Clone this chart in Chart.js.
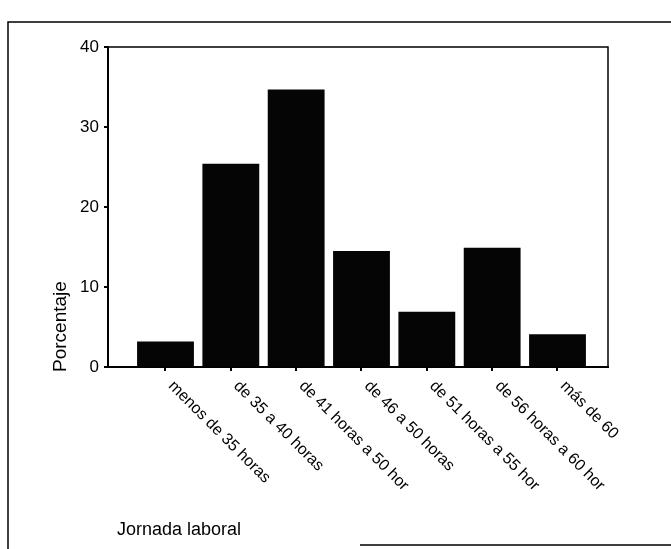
<!DOCTYPE html>
<html><head><meta charset="utf-8">
<script src="https://cdn.jsdelivr.net/npm/chart.js@4"></script>
<style>html,body{margin:0;padding:0;background:#fff;overflow:hidden;} #wrap{width:671px;height:549px;position:relative;}</style>
</head><body><div id="wrap"><canvas id="c" width="671" height="549"></canvas></div>
<script>
const categories = ['menos de 35 horas','de 35 a 40 horas','de 41 horas a 50 hor','de 46 a 50 horas','de 51 horas a 55 hor','de 56 horas a 60 hor','más de 60'];
const porcentaje = [3.2, 25.4, 34.7, 14.5, 6.9, 14.9, 4.1];
const yTicks = [0, 10, 20, 30, 40];
const xTitle = 'Jornada laboral';
const yTitle = 'Porcentaje';

const FONT = '"Liberation Sans", Arial, sans-serif';

const decor = {
  id: 'decor',
  beforeDraw(chart) {
    const ctx = chart.ctx;
    ctx.save(); ctx.fillStyle = '#fff'; ctx.fillRect(0, 0, chart.width, chart.height); ctx.restore();
  },
  afterDraw(chart) {
    const {ctx, chartArea: a} = chart;
    ctx.save();
    ctx.strokeStyle = '#000';
    ctx.lineWidth = 1.5;
    ctx.beginPath(); ctx.moveTo(a.left, a.top); ctx.lineTo(a.right, a.top); ctx.lineTo(a.right, a.bottom); ctx.stroke();
    ctx.beginPath(); ctx.moveTo(671, 22); ctx.lineTo(8, 22); ctx.lineTo(8, 549); ctx.stroke();
    ctx.beginPath(); ctx.moveTo(360, 545); ctx.lineTo(671, 545); ctx.stroke();
    const xs = chart.scales.x;
    ctx.fillStyle = '#000';
    ctx.font = '16px ' + FONT;
    ctx.textAlign = 'left';
    ctx.textBaseline = 'top';
    categories.forEach((c, i) => {
      const x = xs.getPixelForValue(i + 1);
      ctx.save();
      ctx.translate(x + 11, a.bottom + 11);
      ctx.rotate(Math.PI / 4);
      ctx.fillText(c, 0, 0);
      ctx.restore();
    });
    // y axis title
    ctx.save();
    ctx.font = '19px ' + FONT;
    ctx.textBaseline = 'middle';
    ctx.translate(61, a.bottom + 5);
    ctx.rotate(-Math.PI / 2);
    ctx.fillText(yTitle, 0, 0);
    ctx.restore();
    ctx.font = '18px ' + FONT;
    ctx.textBaseline = 'alphabetic';
    ctx.fillText(xTitle, 117, 535);
    ctx.restore();
  }
};

new Chart(document.getElementById('c'), {
  type: 'bar',
  data: {
    datasets: [{
      data: porcentaje.map((v, i) => ({x: i + 1, y: v})),
      backgroundColor: '#050505',
      borderWidth: 0,
      barPercentage: 0.87,
      categoryPercentage: 1
    }]
  },
  options: {
    responsive: false,
    animation: false,
    devicePixelRatio: 1,
    layout: {padding: {left: 0, top: 47, right: 63, bottom: 0}},
    plugins: {legend: {display: false}, tooltip: {enabled: false}},
    scales: {
      x: {
        type: 'linear',
        offset: false,
        min: 0.12,
        max: 7.773,
        afterBuildTicks: (axis) => { axis.ticks = categories.map((_, i) => ({value: i + 1})); },
        afterFit: (scale) => { scale.height = 182; },
        grid: {offset: false, drawOnChartArea: false, drawTicks: true, tickLength: 4, color: '#000', lineWidth: 2},
        border: {display: true, color: '#000', width: 2},
        ticks: {display: false}
      },
      y: {
        min: 0,
        max: 40,
        afterBuildTicks: (axis) => { axis.ticks = yTicks.map(v => ({value: v})); },
        afterFit: (scale) => { scale.width = 108; },
        grid: {drawOnChartArea: false, drawTicks: true, tickLength: 4, color: '#000', lineWidth: 2},
        border: {display: true, color: '#000', width: 2},
        ticks: {color: '#000', font: {family: FONT, size: 17}, padding: 5},
        title: {display: false, text: yTitle}
      }
    }
  },
  plugins: [decor]
});
</script>
</body></html>
